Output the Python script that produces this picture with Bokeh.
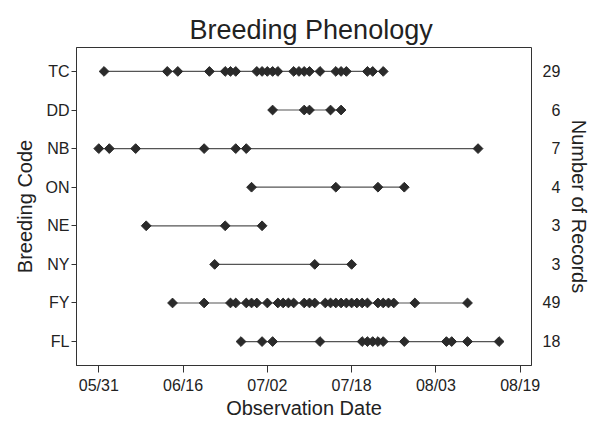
from datetime import datetime, timedelta
import numpy as np
from bokeh.plotting import figure
from bokeh.models import Range1d, FixedTicker, LinearAxis, DatetimeTickFormatter
from bokeh.embed import file_html
from bokeh.resources import INLINE

YEAR = 2013

codes = ["TC", "DD", "NB", "ON", "NE", "NY", "FY", "FL"]
record_counts = [29, 6, 7, 4, 3, 3, 49, 18]

tc_dates = ["06/01", "06/13", "06/15", "06/21", "06/24", "06/25", "06/26", "06/30",
            "07/01", "07/02", "07/03", "07/04", "07/07", "07/08", "07/09", "07/10",
            "07/12", "07/15", "07/16", "07/17", "07/21", "07/22", "07/24"]
dd_dates = ["07/03", "07/09", "07/10", "07/14", "07/16"]
nb_dates = ["05/31", "06/02", "06/07", "06/20", "06/26", "06/28", "08/11"]
on_dates = ["06/29", "07/15", "07/23", "07/28"]
ne_dates = ["06/09", "06/24", "07/01"]
ny_dates = ["06/22", "07/11", "07/18"]
fy_dates = ["06/14", "06/20", "06/25", "06/26", "06/28", "06/29", "06/30", "07/02",
            "07/04", "07/05", "07/06", "07/07", "07/09", "07/10", "07/11", "07/13",
            "07/14", "07/15", "07/16", "07/17", "07/18", "07/19", "07/20", "07/21",
            "07/23", "07/24", "07/25", "07/26", "07/30", "08/09"]
fl_dates = ["06/27", "07/01", "07/03", "07/12", "07/20", "07/21", "07/22", "07/23",
            "07/24", "07/28", "08/05", "08/06", "08/09", "08/15"]

x_tick_labels = ["05/31", "06/16", "07/02", "07/18", "08/03", "08/19"]

dates_by_code = {"TC": tc_dates, "DD": dd_dates, "NB": nb_dates, "ON": on_dates,
                 "NE": ne_dates, "NY": ny_dates, "FY": fy_dates, "FL": fl_dates}


def to_dt(s):
    return datetime.strptime(f"{YEAR}/{s}", "%Y/%m/%d")


def to_ms(d):
    return (d - datetime(1970, 1, 1)).total_seconds() * 1000.0


ypos = {c: len(codes) - i for i, c in enumerate(codes)}

xs, ys, seg_x0, seg_x1, seg_y = [], [], [], [], []
for c in codes:
    ds = [to_dt(s) for s in dates_by_code[c]]
    xs += ds
    ys += [ypos[c]] * len(ds)
    seg_x0.append(min(ds))
    seg_x1.append(max(ds))
    seg_y.append(ypos[c])

first = to_dt(x_tick_labels[0])
x_start = first - timedelta(days=4.23)
x_end = first + timedelta(days=82.15)

FONT = "Liberation Sans"
TXT = "#222222"

p = figure(width=600, height=421, x_axis_type="datetime",
           x_range=Range1d(x_start, x_end), y_range=Range1d(0.38, 8.62),
           output_backend="svg", toolbar_location=None,
           min_border_left=76, min_border_right=69, min_border_top=47,
           min_border_bottom=56, title="Breeding Phenology")

p.segment(x0=seg_x0, x1=seg_x1, y0=seg_y, y1=seg_y, line_color="#555555", line_width=1.2)
p.scatter(xs, ys, marker="square", angle=np.pi / 4, size=6.9,
          fill_color="#2a2a2a", line_color="#2a2a2a")

p.grid.visible = False
p.outline_line_color = "#333333"
p.outline_line_width = 1

p.title.text_font = FONT
p.title.text_font_size = "27px"
p.title.text_font_style = "normal"
p.title.text_color = TXT
p.title.align = "left"
p.title.offset = 113
p.title.standoff = 6

# bottom axis
xa = p.xaxis[0]
xa.ticker = FixedTicker(ticks=[to_ms(to_dt(s)) for s in x_tick_labels])
fmt = "%m/%d"
xa.formatter = DatetimeTickFormatter(days=fmt, months=fmt, hours=fmt, years=fmt,
                                     microseconds=fmt, milliseconds=fmt, seconds=fmt,
                                     minsec=fmt, minutes=fmt, hourmin=fmt)
xa.axis_label = "Observation Date"

# left axis
ya = p.yaxis[0]
ya.ticker = FixedTicker(ticks=[ypos[c] for c in codes])
ya.major_label_overrides = {ypos[c]: c for c in codes}
ya.axis_label = "Breeding Code"

# right axis
p.extra_y_ranges = {"rec": Range1d(0.38, 8.62)}
ra = LinearAxis(y_range_name="rec", axis_label="Number of Records")
ra.ticker = FixedTicker(ticks=[ypos[c] for c in codes])
ra.major_label_overrides = {ypos[c]: ("\u2007" if n < 10 else "") + str(n)
                            for c, n in zip(codes, record_counts)}
p.add_layout(ra, "right")

for ax in [xa, ya, ra]:
    ax.axis_label_text_font = FONT
    ax.axis_label_text_font_size = "20px"
    ax.axis_label_text_font_style = "normal"
    ax.axis_label_text_color = TXT
    ax.major_label_text_font = FONT
    ax.major_label_text_font_size = "16px"
    ax.major_label_text_color = TXT
    ax.minor_tick_line_color = None
    ax.axis_line_color = "#333333"
    ax.major_tick_line_color = "#333333"
    ax.major_tick_in = 0

xa.major_tick_out = 7
xa.major_label_standoff = 4
xa.axis_label_standoff = 0
ya.major_tick_out = 5
ya.major_label_standoff = 2
ya.axis_label_standoff = 7
ra.major_tick_line_color = None
ra.axis_line_color = None
ra.major_tick_out = 0
ra.major_label_standoff = 11
ra.axis_label_standoff = 5

open("out.html", "w").write(file_html(p, INLINE))
